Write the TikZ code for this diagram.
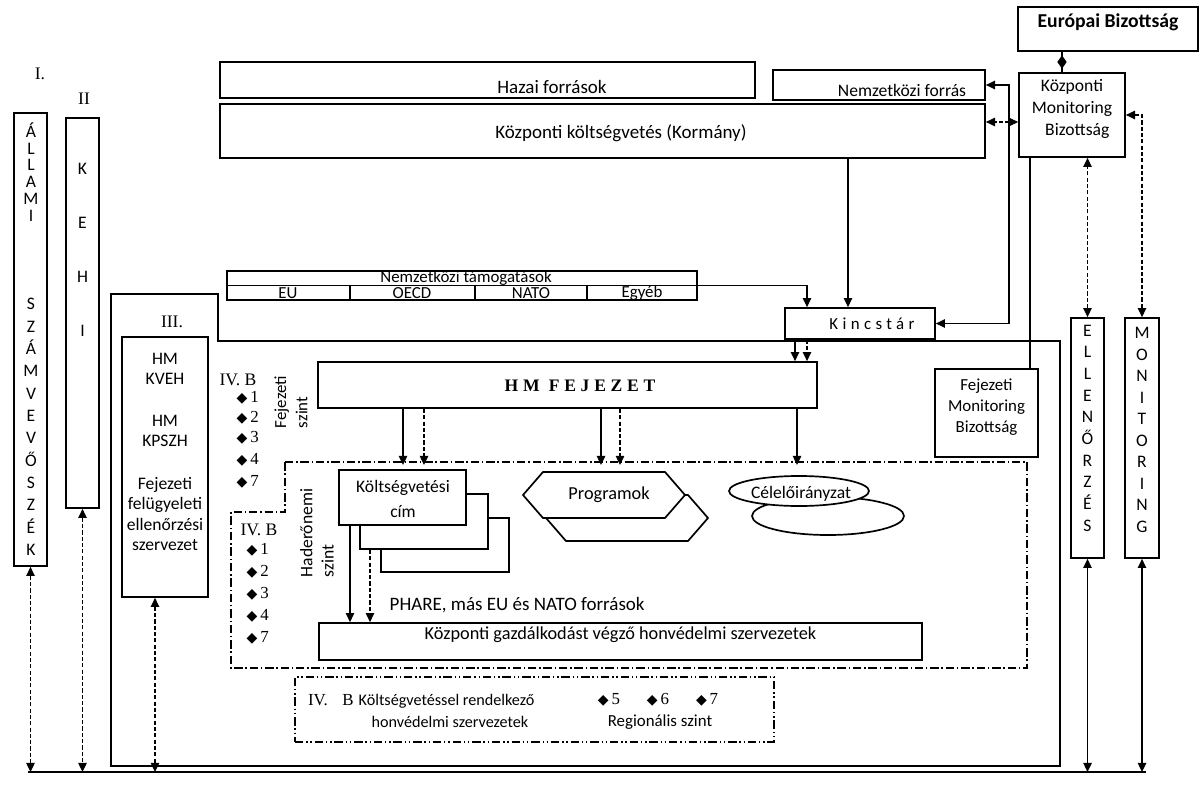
\documentclass[tikz,border=0pt]{standalone}
\usepackage{fontspec}
\setmainfont{Carlito}
\newfontfamily\serif{Liberation Serif}
\newfontfamily\spacedserif[LetterSpace=27]{Liberation Serif}
\newfontfamily\spacedsans[LetterSpace=26]{Carlito}
\newfontfamily\sym{DejaVu Sans}
\usetikzlibrary{arrows.meta,shapes.geometric,fit,calc}

% a list entry: filled diamond followed by a number
\newcommand\diaitem[1]{{\sym\fontsize{10}{10}\selectfont ◆}\,{\serif #1}}

\tikzset{
  >={Triangle[length=6.5pt,width=6pt]},
  box/.style={draw,line width=1.2pt,inner sep=0pt,fill=white},
  frame/.style={draw,line width=1.2pt},
  txt/.style={inner sep=1pt,font=\fontsize{13}{15}\selectfont},
  stxt/.style={inner sep=1pt,font=\serif\fontsize{12.5}{14}\selectfont},
  conn/.style={line width=1pt},
  dconn/.style={line width=1pt,dash pattern=on 3pt off 1.5pt},
  dashdot/.style={line width=1pt,dash pattern=on 6pt off 2pt on 1pt off 2pt},
  dashdotdot/.style={line width=1pt,dash pattern=on 6pt off 2pt on 1pt off 2pt on 1pt off 2pt},
  column/.style={inner sep=1pt,align=center},
  cell/.style={inner sep=1pt,font=\fontsize{12}{14}\selectfont},
  item/.style={inner sep=1pt,anchor=west,font=\fontsize{12}{14}\selectfont},
}

\begin{document}
\begin{tikzpicture}[x=0.025cm,y=-0.025cm]
\useasboundingbox (0,0) rectangle (1201,787);

% ---------- outer frame of level III ----------
\draw[frame] (111,294) -- (218,294) -- (218,341) -- (1060,341) -- (1060,766) -- (111,766) -- cycle;

% ---------- top row ----------
\node[box,fit={(1018,7)(1198,51)},font=\bfseries\fontsize{14}{16}\selectfont] (EB) {Európai Bizottság};
\node[box,fit={(1019,73)(1125,157)},align=center,font=\fontsize{12.5}{15.3}\selectfont] (KMB) {Központi\\Monitoring\\\hspace*{0.6em}Bizottság};

\node[box,fit={(220,62)(755,98)}] (HAZ) {};
\node[txt,font=\fontsize{13.5}{15}\selectfont] (HAZt) at (552,87) {Hazai források};
\node[box,fit={(773,70)(985,100)}] (NF) {};
\node[txt,font=\fontsize{12.5}{14}\selectfont] (NFt) at (902,90) {Nemzetközi forrás};
\node[box,fit={(220,104)(985,158)}] (KKV) {};
\node[txt,font=\fontsize{13.5}{15}\selectfont] (KKVt) at (621,133) {Központi költségvetés (Kormány)};

% ---------- left columns ----------
\node[stxt] (L1) at (40,74) {I.};
\node[box,fit={(14,113)(47,566)}] (ALL) {};
\node[column,font=\fontsize{12.5}{12}\selectfont] (ALLa) at (31,172) {Á\\L\\L\\A\\M\\I};
\node[column,font=\fontsize{12.5}{15.9}\selectfont] (ALLb) at (31,427) {S\\Z\\Á\\M\\V\\E\\V\\Ő\\S\\Z\\É\\K};

\node[stxt] (L2) at (84,99) {II};
\node[box,fit={(66,118)(99,508)}] (KEHI) {};
\node[column,font=\fontsize{12.5}{38.5}\selectfont] (KEHIt) at (82.5,250) {K\\E\\H\\I};

% ---------- right columns ----------
\node[box,fit={(1071,318)(1104,558)}] (ELL) {};
\node[column,font=\fontsize{12.5}{15.4}\selectfont] (ELLt) at (1087.5,428) {E\\L\\L\\E\\N\\Ő\\R\\Z\\É\\S};
\node[box,fit={(1125,318)(1159,558)}] (MON) {};
\node[column,font=\fontsize{12.5}{15.3}\selectfont] (MONt) at (1142,430) {M\\O\\N\\I\\T\\O\\R\\I\\N\\G};

% ---------- level III ----------
\node[stxt] (L3) at (172,322) {III.};
\node[box,fit={(122,337)(208,597)}] (IN3) {};
\node[column,font=\fontsize{12.5}{14.5}\selectfont] (IN3a) at (165,369) {HM\\KVEH};
\node[column,font=\fontsize{12.5}{14.5}\selectfont] (IN3b) at (165,431) {HM\\KPSZH};
\node[column,font=\fontsize{12.5}{14.5}\selectfont] (IN3c) at (165,514) {Fejezeti\\felügyeleti\\ellenőrzési\\szervezet};

% international support table
\node[box,fit={(227,271)(697,300)}] (NT) {};
\draw[line width=1.2pt] (NT.west) -- (NT.east);
\draw[line width=1.2pt] (350,285.5) -- (350,300) (475,285.5) -- (475,300) (587,285.5) -- (587,300);
\node[cell] (NTt) at (466,278) {Nemzetközi támogatások};
\node[cell] (NTa) at (288,293) {EU};
\node[cell] (NTb) at (412,293) {OECD};
\node[cell] (NTc) at (531,293) {NATO};
\node[cell] (NTd) at (642,293) {Egyéb};

\node[box,fit={(785,308)(935,339)}] (KIN) {};
\node[txt,font=\spacedsans\fontsize{12}{14}\selectfont] (KINt) at (872,324) {Kincstár};

\node[box,fit={(318,362)(817,408)}] (HM) {};
\node[txt,font=\spacedserif\bfseries\fontsize{12.5}{14}\selectfont] (HMt) at (580,386) {HM FEJEZET};

\node[box,fit={(935,369)(1038,457)},align=center,font=\fontsize{12}{15}\selectfont] (FMB) {Fejezeti\\Monitoring\\Bizottság};

% chapter level list
\node[stxt] (IVa) at (238,380) {IV. B};
\node[item] (fa1) at (235,398) {\diaitem{1}};
\node[item] (fa2) at (235,418) {\diaitem{2}};
\node[item] (fa3) at (235,438) {\diaitem{3}};
\node[item] (fa4) at (235,460) {\diaitem{4}};
\node[item] (fa5) at (235,482) {\diaitem{7}};
\node[txt,rotate=90,align=left,font=\fontsize{12}{15}\selectfont] (FSZ) at (291,402) {Fejezeti\\szint};

% service level region
\draw[dashdot] (285,462) -- (1027,462) -- (1027,668) -- (231,668) -- (231,512) -- (285,512) -- cycle;
\node[stxt] (IVb) at (259,530) {IV. B};
\node[item] (fb1) at (245,550) {\diaitem{1}};
\node[item] (fb2) at (245,572) {\diaitem{2}};
\node[item] (fb3) at (245,594) {\diaitem{3}};
\node[item] (fb4) at (245,616) {\diaitem{4}};
\node[item] (fb5) at (245,638) {\diaitem{7}};
\node[txt,rotate=90,align=left,font=\fontsize{12.5}{15}\selectfont] (HSZ) at (317,533) {Haderőnemi\\szint};

% budget titles (stacked cards)
\node[box,fit={(381,518)(509,572)}] (KC3) {};
\node[box,fit={(360,494)(488,549)}] (KC2) {};
\node[box,fit={(339,470)(466,525)}] (KC1) {};
\node[column,font=\fontsize{12.5}{18}\selectfont] (KC1t) at (403,499) {Költségvetési\\cím};

% programmes (stacked hexagons)
\draw[frame,fill=white] (546,518) -- (566,495) -- (688,495) -- (708,518) -- (688,541) -- (566,541) -- cycle;
\draw[frame,fill=white] (523,495) -- (543,472) -- (665,472) -- (685,495) -- (665,518) -- (543,518) -- cycle;
\node[txt,font=\fontsize{13}{15}\selectfont] (PR) at (609,495) {Programok};

% earmarked appropriations (stacked ellipses)
\node[draw,ellipse,line width=1.2pt,fill=white,inner sep=0pt,minimum width=3.8cm,minimum height=0.95cm] (CE2) at (828,516) {};
\node[draw,ellipse,line width=1.2pt,fill=white,inner sep=0pt,minimum width=3.5cm,minimum height=0.75cm] (CE1) at (799,491) {};
\node[txt,font=\fontsize{12.5}{14}\selectfont] (CEt) at (801,494) {Célelőirányzat};

\node[txt,anchor=west,font=\fontsize{13.5}{15}\selectfont] (PH) at (388,605) {PHARE, más EU és NATO források};
\node[box,fit={(319,623)(922,660)},font=\fontsize{13}{15}\selectfont] (KGV) {Központi gazdálkodást végző honvédelmi szervezetek};

% regional level
\node[draw,dashdotdot,fit={(295,677)(774,742)},inner sep=0pt] (REG) {};
\node[stxt,font=\serif\fontsize{12}{14}\selectfont] (IVc) at (318,700) {IV.};
\node[stxt,font=\serif\fontsize{12}{14}\selectfont] (IVd) at (348,700) {B};
\node[txt,anchor=west,align=left,font=\fontsize{11.5}{15.5}\selectfont] (REGt) at (357,711) {Költségvetéssel rendelkező\\\hspace*{0.8em}honvédelmi szervezetek};
\node[txt,font=\fontsize{12}{14}\selectfont] (REGd) at (658,700) {\diaitem{5}\hspace{1.6em}\diaitem{6}\hspace{1.6em}\diaitem{7}};
\node[txt,font=\fontsize{12}{14}\selectfont] (REGs) at (660,722) {Regionális szint};

% ---------- connectors ----------
\coordinate (D) at (1062,0);
\draw[conn] (EB.south -| D) -- (KMB.north -| D)
  node[midway,diamond,fill=black,inner sep=0pt,minimum width=7pt,minimum height=10pt] (DM) {};

\coordinate (J) at (1009,122);
\draw[dconn,<->] (KMB.west |- J) -- (KKV.east |- J);
\draw[conn,->] (J) |- (NF.east);
\draw[conn,->] (J) |- (KIN.east);
\draw[dconn,<->] (KMB.east) -| (MON.north);
\draw[dconn,<->] (ELL.north) -- (ELL.north |- KMB.south);
\coordinate (K1) at (1030,0);
\draw[conn] (KMB.south -| K1) -- (FMB.north -| K1);

\coordinate (K2) at (807,0);
\coordinate (K3) at (848,0);
\coordinate (K4) at (795,0);
\draw[conn,->] (NT.east) -| (KIN.north -| K2);
\draw[conn,->] (KKV.south -| K3) -- (KIN.north -| K3);
\draw[conn,->] (KIN.south -| K4) -- (HM.north -| K4);
\draw[dconn,->] (KIN.south -| K2) -- (HM.north -| K2);

\coordinate (A1) at (403,465);
\coordinate (A2) at (424,465);
\coordinate (A3) at (601,465);
\coordinate (A4) at (620,465);
\coordinate (A5) at (797,465);
\draw[conn,->] (HM.south -| A1) -- (A1);
\draw[dconn,->] (HM.south -| A2) -- (A2);
\draw[conn,->] (HM.south -| A3) -- (A3);
\draw[dconn,->] (HM.south -| A4) -- (A4);
\draw[conn,->] (HM.south -| A5) -- (A5);

\coordinate (B1) at (350,0);
\coordinate (B2) at (370,0);
\draw[conn,->] (KC1.south -| B1) -- (KGV.north -| B1);
\draw[dconn,->] (KC2.south -| B2) -- (KGV.north -| B2);

% common base line of the audit bodies
\coordinate (BL) at (28,772);
\coordinate (BR) at (1146,772);
\draw[conn] (BL) -- (BR);
\coordinate (C3) at (155,0);
\draw[dconn,<->] (ALL.south) -- (ALL.south |- BL);
\draw[dconn,<->] (KEHI.south) -- (KEHI.south |- BL);
\draw[dconn,<->] (IN3.south -| C3) -- (C3 |- BL);
\draw[conn,<->] (ELL.south) -- (ELL.south |- BL);
\draw[conn,<->] (MON.south) -- (MON.south |- BL);
\end{tikzpicture}
\end{document}
